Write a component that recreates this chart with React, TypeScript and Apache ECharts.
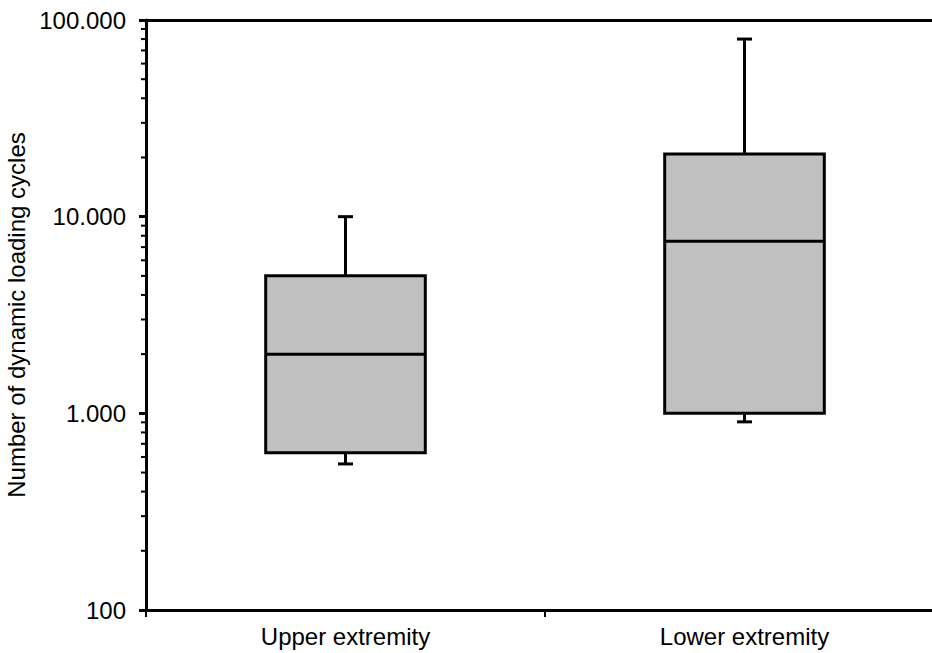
import { useEffect, useRef } from "react";
import * as echarts from "echarts";

const categories = ["Upper extremity", "Lower extremity"];
// Box statistics per group: [min, Q1, median, Q3, max]
const upperExtremity = [553, 630, 2000, 5000, 10000];
const lowerExtremity = [905, 1000, 7500, 20800, 80000];
const yMin = 100;
const yMax = 100000;
const yTitle = "Number of dynamic loading cycles";
// Minor log ticks (2..9 within each decade)
const minorTickValues = [
  200, 300, 400, 500, 600, 700, 800, 900,
  2000, 3000, 4000, 5000, 6000, 7000, 8000, 9000,
  20000, 30000, 40000, 50000, 60000, 70000, 80000, 90000,
];

const FONT = "Liberation Sans, Arial, sans-serif";

const formatThousands = (v: number) =>
  Math.round(v).toString().replace(/\B(?=(\d{3})+(?!\d))/g, ".");

export default function App() {
  const ref = useRef<HTMLDivElement>(null);

  useEffect(() => {
    document.body.style.margin = "0";
    if (!ref.current) return;
    const chart = echarts.init(ref.current, null, { renderer: "svg" });

    const boxData = [upperExtremity, lowerExtremity].map((s, i) => [i, ...s]);

    chart.setOption({
      animation: false,
      backgroundColor: "#ffffff",
      grid: {
        left: 146,
        top: 20,
        width: 798,
        height: 590,
        containLabel: false,
        outerBoundsMode: "none",
      },
      xAxis: [
        {
          type: "category",
          data: categories,
          boundaryGap: true,
          axisLine: { show: true, lineStyle: { color: "#000", width: 3 } },
          axisTick: { show: true, length: 7, lineStyle: { color: "#000", width: 2 } },
          axisLabel: { color: "#000", fontSize: 24, fontFamily: FONT, margin: 14 },
          splitLine: { show: false },
        },
        {
          type: "category",
          data: categories,
          position: "top",
          axisLine: { show: true, lineStyle: { color: "#000", width: 3 } },
          axisTick: { show: false },
          axisLabel: { show: false },
          splitLine: { show: false },
        },
      ],
      yAxis: {
        type: "log",
        logBase: 10,
        min: yMin,
        max: yMax,
        name: yTitle,
        nameLocation: "middle",
        nameGap: 112,
        nameRotate: 90,
        nameTextStyle: { color: "#000", fontSize: 24, fontFamily: FONT },
        axisLine: { show: true, lineStyle: { color: "#000", width: 3 } },
        axisTick: { show: true, length: 7, lineStyle: { color: "#000", width: 3 } },
        axisLabel: {
          color: "#000",
          fontSize: 24,
          fontFamily: FONT,
          margin: 20,
          formatter: (v: number) => formatThousands(v),
        },
        splitLine: { show: false },
      },
      series: [
        {
          type: "custom",
          name: "minor ticks",
          silent: true,
          clip: false,
          data: minorTickValues.map((v) => [0, v]),
          encode: { x: 0, y: 1 },
          renderItem: (params: any, api: any) => {
            const p = api.coord([0, api.value(1)]);
            const left = params.coordSys.x;
            return {
              type: "line",
              shape: { x1: left - 5, y1: p[1], x2: left, y2: p[1] },
              style: { stroke: "#000", lineWidth: 2 },
            };
          },
        },
        {
          type: "custom",
          name: "boxes",
          clip: false,
          data: boxData,
          encode: { x: 0, y: [1, 2, 3, 4, 5] },
          renderItem: (params: any, api: any) => {
            const c = api.value(0);
            const lo = api.coord([c, api.value(1)]);
            const q1 = api.coord([c, api.value(2)]);
            const med = api.coord([c, api.value(3)]);
            const q3 = api.coord([c, api.value(4)]);
            const hi = api.coord([c, api.value(5)]);
            const bw = api.size([1, 0])[0] * 0.4;
            const cap = 15;
            const cx = lo[0];
            const lineStyle = { stroke: "#000", lineWidth: 3 };
            return {
              type: "group",
              children: [
                { type: "line", shape: { x1: cx, y1: q3[1], x2: cx, y2: hi[1] }, style: lineStyle },
                { type: "line", shape: { x1: cx - cap / 2, y1: hi[1], x2: cx + cap / 2, y2: hi[1] }, style: lineStyle },
                { type: "line", shape: { x1: cx, y1: q1[1], x2: cx, y2: lo[1] }, style: lineStyle },
                { type: "line", shape: { x1: cx - cap / 2, y1: lo[1], x2: cx + cap / 2, y2: lo[1] }, style: lineStyle },
                {
                  type: "rect",
                  shape: { x: cx - bw / 2, y: q3[1], width: bw, height: q1[1] - q3[1] },
                  style: { fill: "#c0c0c0", stroke: "#000", lineWidth: 3 },
                },
                { type: "line", shape: { x1: cx - bw / 2, y1: med[1], x2: cx + bw / 2, y2: med[1] }, style: lineStyle },
              ],
            };
          },
        },
      ],
    });

    return () => chart.dispose();
  }, []);

  return <div ref={ref} style={{ width: 932, height: 653 }} />;
}
